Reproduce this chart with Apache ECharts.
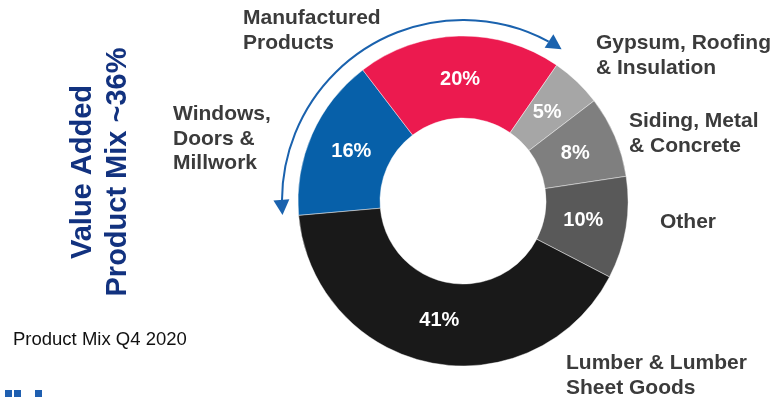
<!DOCTYPE html>
<html>
<head>
<meta charset="utf-8">
<script src="https://cdn.jsdelivr.net/npm/echarts@6/dist/echarts.min.js"></script>
<style>
  html, body { margin: 0; padding: 0; background: #ffffff; }
  #chart { width: 777px; height: 397px; }
</style>
</head>
<body>
<div id="chart"></div>
<script>
// Product mix, Q4 2020 (share of sales, %)
const categories = [
  'Windows, Doors & Millwork',
  'Manufactured Products',
  'Gypsum, Roofing & Insulation',
  'Siding, Metal & Concrete',
  'Other',
  'Lumber & Lumber Sheet Goods'
];
const shares = [16, 20, 5, 8, 10, 41];
// How each category name is broken over lines beside the ring
const nameLines = [
  'Windows,\nDoors &\nMillwork',
  'Manufactured\nProducts',
  'Gypsum, Roofing\n& Insulation',
  'Siding, Metal\n& Concrete',
  'Other',
  'Lumber & Lumber\nSheet Goods'
];
// The first two categories form the value-added group
const valueAddedCount = 2;
const subtitle = 'Product Mix Q4 2020';

const colors = ['#0760a9', '#ec1a4f', '#a6a6a6', '#7f7f7f', '#595959', '#191919'];

// Ring geometry
const cx = 463, cy = 201;
const rInner = 83, rOuter = 165;
const rLabel = 155; // outer edge of the ring used only to place the % labels
const startAngle = 185;

// Category name placement (left edge, top of first line)
const namePos = [
  [173, 102], [243, 6], [596, 31], [629, 109], [660, 210], [566, 351]
];

const valueAdded = shares.slice(0, valueAddedCount).reduce((a, b) => a + b, 0);
const total = shares.reduce((a, b) => a + b, 0);

// Arc with arrowheads spanning the value-added slices
const arcR = 181;
const arrowLen = 15, arrowHalf = 8;
const tipStart = startAngle - 0.6;
const tipEnd = startAngle - valueAdded / total * 360 + 1.6;
const rad = d => d * Math.PI / 180;
const pt = (deg, r) => [cx + r * Math.cos(rad(deg)), cy - r * Math.sin(rad(deg))];

function arrowHead(deg, dir) {
  const t = pt(deg, arcR);
  const a = rad(deg);
  // tangent in screen space; dir = 1 for counter-clockwise travel, -1 for clockwise
  const d = dir > 0 ? [-Math.sin(a), -Math.cos(a)] : [Math.sin(a), Math.cos(a)];
  const b = [t[0] - arrowLen * d[0], t[1] - arrowLen * d[1]];
  const n = [-d[1], d[0]];
  return [t, [b[0] + arrowHalf * n[0], b[1] + arrowHalf * n[1]], [b[0] - arrowHalf * n[0], b[1] - arrowHalf * n[1]]];
}
const dl = arrowLen / arcR * 180 / Math.PI;

const FONT = "'Liberation Sans', Arial, Helvetica, sans-serif";
const arrowColor = '#1a62ae';

const graphics = [
  {
    type: 'arc',
    shape: { cx: cx, cy: cy, r: arcR, startAngle: -rad(tipStart - dl), endAngle: -rad(tipEnd + dl), clockwise: true },
    style: { stroke: arrowColor, lineWidth: 2, fill: null },
    silent: true
  },
  { type: 'polygon', shape: { points: arrowHead(tipStart, 1) }, style: { fill: arrowColor }, silent: true },
  { type: 'polygon', shape: { points: arrowHead(tipEnd, -1) }, style: { fill: arrowColor }, silent: true },
  {
    type: 'text', x: 83, y: 172, rotation: Math.PI / 2,
    style: { text: 'Value Added', fill: '#12327f', font: 'bold 29px ' + FONT, textAlign: 'center', textVerticalAlign: 'middle' }
  },
  {
    type: 'text', x: 118, y: 172, rotation: Math.PI / 2,
    style: { text: 'Product Mix ~' + valueAdded + '%', fill: '#12327f', font: 'bold 29px ' + FONT, textAlign: 'center', textVerticalAlign: 'middle' }
  },
  {
    type: 'text', x: 13, y: 340,
    style: { text: subtitle, fill: '#111111', font: '18.5px ' + FONT, textAlign: 'left', textVerticalAlign: 'middle' }
  },
  { type: 'rect', shape: { x: 5, y: 390, width: 7, height: 7 }, style: { fill: '#1f5fb0' } },
  { type: 'rect', shape: { x: 14, y: 390, width: 7, height: 7 }, style: { fill: '#1f5fb0' } },
  { type: 'rect', shape: { x: 35, y: 390, width: 7, height: 7 }, style: { fill: '#1f5fb0' } }
];

nameLines.forEach((txt, i) => {
  graphics.push({
    type: 'text', x: namePos[i][0], y: namePos[i][1],
    style: {
      text: txt, fill: '#3b3b3b', font: 'bold 21px ' + FONT,
      lineHeight: 24.5, textAlign: 'left', textVerticalAlign: 'top'
    }
  });
});

const pieData = categories.map((name, i) => ({ name: name, value: shares[i], itemStyle: { color: colors[i] } }));

const chart = echarts.init(document.getElementById('chart'), null, { renderer: 'canvas' });
chart.setOption({
  animation: false,
  backgroundColor: '#ffffff',
  series: [
    {
      // the ring itself
      type: 'pie',
      center: [cx, cy],
      radius: [rInner, rOuter],
      startAngle: startAngle,
      clockwise: true,
      silent: true,
      itemStyle: { borderColor: 'rgba(255,255,255,0.55)', borderWidth: 0.8 },
      label: { show: false },
      labelLine: { show: false },
      data: pieData
    },
    {
      // transparent twin ring carrying the percentage labels
      type: 'pie',
      center: [cx, cy],
      radius: [rInner, rLabel],
      startAngle: startAngle,
      clockwise: true,
      silent: true,
      avoidLabelOverlap: false,
      itemStyle: { color: 'rgba(0,0,0,0)', borderWidth: 0 },
      label: {
        show: true, position: 'inside', formatter: '{c}%',
        color: '#ffffff', fontFamily: FONT, fontWeight: 'bold', fontSize: 20
      },
      labelLine: { show: false },
      data: categories.map((name, i) => ({ name: name, value: shares[i] }))
    }
  ],
  graphic: graphics
});
</script>
</body>
</html>
